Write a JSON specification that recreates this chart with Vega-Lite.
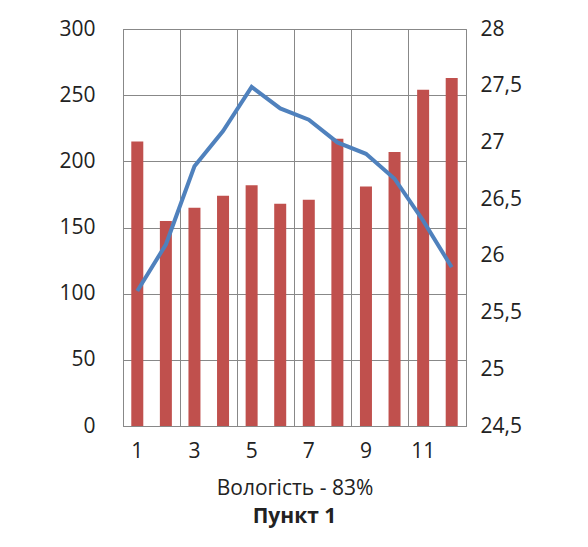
{
  "$schema": "https://vega.github.io/schema/vega-lite/v6.json",
  "width": 343,
  "height": 397,
  "padding": {"left": 58, "top": 18, "right": 5, "bottom": 5},
  "background": "white",
  "config": {"font": "Open Sans", "view": {"stroke": "#888", "strokeWidth": 1}},
  "title": {"text": "Пункт 1", "orient": "bottom", "fontSize": 21, "fontWeight": "bold", "color": "#222", "offset": 8},
  "data": {"values": [
    {"m": 1, "v": 215, "t": 25.69},
    {"m": 2, "v": 155, "t": 26.1},
    {"m": 3, "v": 165, "t": 26.79},
    {"m": 4, "v": 174, "t": 27.1},
    {"m": 5, "v": 182, "t": 27.49},
    {"m": 6, "v": 168, "t": 27.3},
    {"m": 7, "v": 171, "t": 27.2},
    {"m": 8, "v": 217, "t": 27.0},
    {"m": 9, "v": 181, "t": 26.9},
    {"m": 10, "v": 207, "t": 26.68},
    {"m": 11, "v": 254, "t": 26.31},
    {"m": 12, "v": 263, "t": 25.9}
  ]},
  "layer": [
    {
      "mark": {"type": "bar", "color": "#C0504D", "width": 12},
      "encoding": {
        "x": {"field": "m", "type": "ordinal", "scale": {"paddingInner": 0, "paddingOuter": 0},
          "axis": {"orient": "bottom", "values": [1,3,5,7,9,11], "bandPosition": 0, "labels": false, "ticks": false, "domain": false, "title": null, "grid": true, "gridColor": "#888"}},
        "y": {"field": "v", "type": "quantitative", "scale": {"domain": [0, 300]},
          "axis": {"values": [0,50,100,150,200,250,300], "title": null, "labelFontSize": 21, "labelColor": "#222", "gridColor": "#888", "ticks": false, "domainColor": "#888", "labelPadding": 28}}
      }
    },
    {
      "mark": {"type": "line", "color": "#4F81BD", "strokeWidth": 4},
      "encoding": {
        "x": {"field": "m", "type": "ordinal",
          "axis": {"orient": "bottom", "values": [1,3,5,7,9,11], "title": "Вологість - 83%", "titleFontSize": 21, "titleFontWeight": "normal", "titleColor": "#222", "labelFontSize": 21, "labelColor": "#222", "labelAngle": 0, "domainColor": "#888", "ticks": false, "labelPadding": 14, "titlePadding": 16, "grid": false}},
        "y": {"field": "t", "type": "quantitative", "scale": {"domain": [24.5, 28], "zero": false},
          "axis": {"orient": "right", "values": [24.5,25,25.5,26,26.5,27,27.5,28], "labelExpr": "replace(format(datum.value, '~g'), '.', ',')", "title": null, "labelFontSize": 21, "labelColor": "#222", "grid": false, "domainColor": "#888", "ticks": false, "labelPadding": 14}}
      }
    }
  ],
  "resolve": {"scale": {"y": "independent"}, "axis": {"x": "independent"}}
}
